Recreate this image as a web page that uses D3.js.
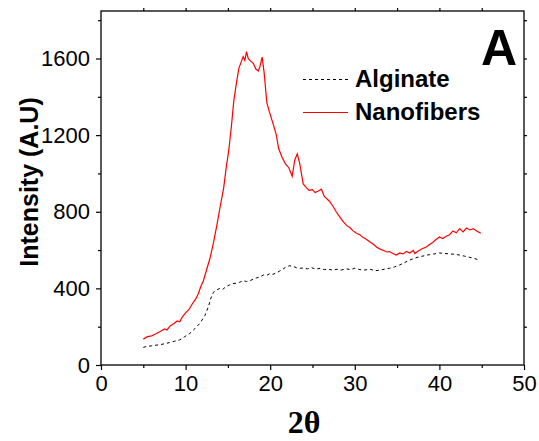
<!DOCTYPE html>
<html>
<head>
<meta charset="utf-8">
<script src="https://cdn.jsdelivr.net/npm/d3@7"></script>
<style>
  html, body { margin: 0; padding: 0; background: #fff; }
  svg { display: block; font-family: Arial, "Liberation Sans", sans-serif; }
</style>
</head>
<body>
<div id="chart"></div>
<script>
// XRD pattern: alginate vs nanofibers
const nanoX = [5.0, 5.5, 6.0, 6.5, 7.0, 7.5, 7.8, 8.2, 8.6, 9.0, 9.3, 9.6, 10.0, 10.4, 10.8, 11.2, 11.5, 11.8, 12.1, 12.5,
  12.9, 13.3, 13.7, 14.1, 14.5, 14.8, 15.1, 15.4, 15.7, 16.0, 16.3, 16.6, 16.8, 17.0, 17.2, 17.4, 17.6, 18.0, 18.3, 18.6,
  18.8, 19.05, 19.3, 19.6, 19.95, 20.3, 20.7, 21.0, 21.4, 21.8, 22.2, 22.6, 22.9, 23.2, 23.5, 23.9, 24.3, 24.6, 25.0, 25.3,
  25.7, 26.05, 26.4, 27.0, 27.4, 27.8, 28.2, 28.6, 29.0, 29.4, 29.8, 30.2, 30.6, 31.0, 31.4, 31.8, 32.2, 32.6, 33.0, 33.4,
  33.8, 34.1, 34.5, 34.9, 35.3, 35.7, 36.1, 36.5, 36.9, 37.1, 37.5, 38.0, 38.4, 38.8, 39.2, 39.6, 40.0, 40.4, 40.8, 41.2,
  41.6, 42.0, 42.4, 42.8, 43.2, 43.6, 44.0, 44.4, 44.9];
const nanoY = [135, 148, 152, 163, 175, 188, 183, 205, 215, 230, 226, 250, 272, 290, 320, 345, 372, 410, 440, 500,
  560, 640, 730, 830, 925, 1030, 1120, 1240, 1380, 1470, 1550, 1585, 1610, 1590, 1636, 1600, 1590, 1575, 1545, 1535,
  1560, 1607, 1520, 1370, 1315, 1265, 1205, 1130, 1085, 1050, 1030, 985, 1070, 1102, 1050, 945, 925, 912, 915, 900,
  908, 918, 880, 855, 830, 800, 775, 750, 730, 718, 700, 688, 680, 665, 655, 642, 630, 615, 605, 598,
  590, 592, 582, 574, 585, 580, 593, 585, 598, 582, 595, 608, 615, 628, 640, 655, 668, 660, 672, 680,
  700, 690, 712, 695, 715, 705, 712, 700, 688];

const algX = [5.0, 5.5, 6.0, 6.6, 7.2, 8.1, 8.7, 9.3, 9.9, 10.5, 11.1, 11.7, 12.3, 12.7, 13.0, 13.3, 13.7, 14.05, 14.4, 14.8,
  15.2, 15.6, 16.0, 16.4, 16.8, 17.2, 17.6, 18.0, 18.4, 18.8, 19.2, 19.6, 20.0, 20.3, 20.7, 21.1, 21.5, 21.9, 22.3, 22.7,
  23.1, 23.5, 23.9, 24.4, 24.9, 25.4, 25.9, 26.4, 26.9, 27.4, 27.9, 28.4, 29.0, 29.5, 30.0, 30.6, 31.2, 31.8, 32.4, 32.9,
  33.5, 34.1, 34.7, 35.3, 35.9, 36.5, 37.1, 37.7, 38.2, 38.8, 39.4, 40.0, 40.6, 41.2, 41.8, 42.4, 43.0, 43.6, 44.2, 44.7];
const algY = [92, 98, 100, 104, 108, 117, 124, 131, 148, 165, 190, 218, 260, 305, 350, 380, 392, 400, 395, 410,
  418, 425, 427, 432, 440, 436, 440, 448, 455, 460, 470, 468, 478, 473, 480, 490, 500, 513, 518, 515,
  508, 505, 506, 502, 508, 500, 505, 498, 500, 495, 500, 496, 502, 498, 505, 498, 496, 500, 492, 495,
  500, 505, 512, 522, 535, 548, 558, 566, 570, 576, 580, 585, 582, 580, 578, 574, 568, 562, 555, 548];

const xTicks = [0, 10, 20, 30, 40, 50];
const yTicks = [0, 400, 800, 1200, 1600];
const seriesNames = ['Alginate', 'Nanofibers'];

const width = 539, height = 441;
const margin = { top: 11, right: 15, bottom: 76, left: 101 };
const innerW = width - margin.left - margin.right;
const innerH = height - margin.top - margin.bottom;

const svg = d3.select('#chart').append('svg')
  .attr('width', width)
  .attr('height', height);

const g = svg.append('g').attr('transform', `translate(${margin.left},${margin.top})`);

const x = d3.scaleLinear().domain([0, 50]).range([0, innerW]);
const y = d3.scaleLinear().domain([0, 1848]).range([innerH, 0]);

// minor ticks
const xMinor = d3.range(5, 50, 10);
const yMinor = d3.range(200, 1848, 400);

// bottom axis
g.append('g')
  .attr('transform', `translate(0,${innerH})`)
  .call(d3.axisBottom(x).tickValues(xTicks).tickSize(5).tickPadding(5).tickFormat(d3.format('d')))
  .call(a => a.select('.domain').remove())
  .selectAll('text').attr('font-size', 22).attr('fill', '#000');
g.append('g')
  .attr('transform', `translate(0,${innerH})`)
  .call(d3.axisBottom(x).tickValues(xMinor).tickSize(3).tickFormat(''))
  .call(a => a.select('.domain').remove());

// left axis
g.append('g')
  .call(d3.axisLeft(y).tickValues(yTicks).tickSize(5).tickPadding(6).tickFormat(d3.format('d')))
  .call(a => a.select('.domain').remove())
  .selectAll('text').attr('font-size', 22).attr('fill', '#000');
g.append('g')
  .call(d3.axisLeft(y).tickValues(yMinor).tickSize(3).tickFormat(''))
  .call(a => a.select('.domain').remove());

// top and right axes (ticks only)
g.append('g')
  .call(d3.axisTop(x).tickValues(d3.range(5, 50, 5)).tickSize(3).tickFormat(''))
  .call(a => a.select('.domain').remove());
g.append('g')
  .attr('transform', `translate(${innerW},0)`)
  .call(d3.axisRight(y).tickValues(d3.range(200, 1848, 200)).tickSize(3).tickFormat(''))
  .call(a => a.select('.domain').remove());

g.selectAll('.tick line').attr('stroke', '#000').attr('stroke-width', 1.2);

// frame
g.append('rect')
  .attr('x', 0).attr('y', 0)
  .attr('width', innerW).attr('height', innerH)
  .attr('fill', 'none')
  .attr('stroke', '#000')
  .attr('stroke-width', 1.3);

const line = d3.line().x(d => x(d[0])).y(d => y(d[1]));

g.append('path')
  .datum(algX.map((v, i) => [v, algY[i]]))
  .attr('d', line)
  .attr('fill', 'none')
  .attr('stroke', '#000')
  .attr('stroke-width', 1)
  .attr('stroke-dasharray', '3,3');

g.append('path')
  .datum(nanoX.map((v, i) => [v, nanoY[i]]))
  .attr('d', line)
  .attr('fill', 'none')
  .attr('stroke', '#ff0000')
  .attr('stroke-width', 1.2);

// legend
const legend = svg.append('g');
const legendStyles = [
  { stroke: '#000', dash: '3,3', w: 1 },
  { stroke: '#ff0000', dash: null, w: 1.2 }
];
seriesNames.forEach((name, i) => {
  const ly = 79.5 + i * 33;
  legend.append('line')
    .attr('x1', 303).attr('x2', 348)
    .attr('y1', ly).attr('y2', ly)
    .attr('stroke', legendStyles[i].stroke)
    .attr('stroke-width', legendStyles[i].w)
    .attr('stroke-dasharray', legendStyles[i].dash);
  legend.append('text')
    .attr('x', 355).attr('y', ly + 7)
    .attr('font-size', 24)
    .attr('font-weight', 'bold')
    .text(name);
});

// panel letter
svg.append('text')
  .attr('x', 481).attr('y', 65)
  .attr('font-size', 50)
  .attr('font-weight', 'bold')
  .text('A');

// axis titles
svg.append('text')
  .attr('x', 304).attr('y', 433)
  .attr('text-anchor', 'middle')
  .attr('font-family', '"Liberation Serif", "Times New Roman", serif')
  .attr('font-size', 32)
  .attr('font-weight', 'bold')
  .text('2θ');

svg.append('text')
  .attr('transform', 'translate(38,182) rotate(-90)')
  .attr('text-anchor', 'middle')
  .attr('font-size', 25)
  .attr('font-weight', 'bold')
  .text('Intensity (A.U)');
</script>
</body>
</html>
